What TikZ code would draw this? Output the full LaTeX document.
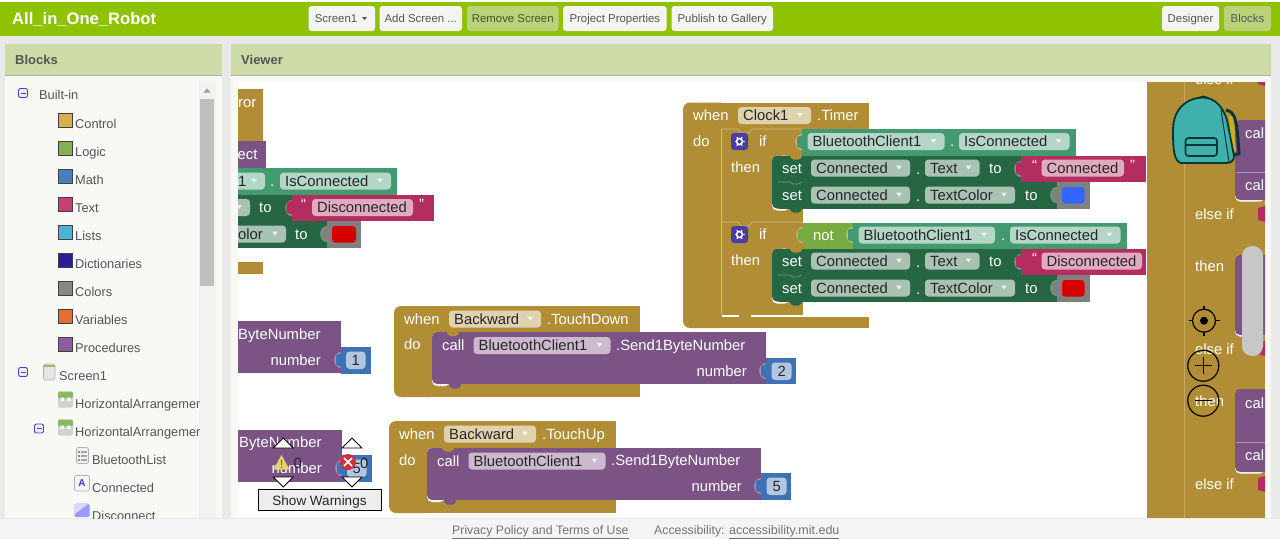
\documentclass[tikz,border=0pt]{standalone}
\usepackage{fontspec}
\setmainfont{Liberation Sans}
\definecolor{ctl}{HTML}{B18E35}\definecolor{ctlp}{HTML}{E0D2AE}
\definecolor{dgr}{HTML}{266643}\definecolor{dgrp}{HTML}{A8C2B3}
\definecolor{tea}{HTML}{439970}\definecolor{teap}{HTML}{B4D6C6}
\definecolor{pnk}{HTML}{B32D5E}\definecolor{pnkp}{HTML}{E0ABBF}
\definecolor{pur}{HTML}{7C5385}\definecolor{purp}{HTML}{CBBACE}
\definecolor{blu}{HTML}{3F71B5}\definecolor{blup}{HTML}{B2C6E1}
\definecolor{lgc}{HTML}{77AB41}\definecolor{gry}{HTML}{808080}
\definecolor{topg}{HTML}{8FC202}\definecolor{hdr}{HTML}{CDDBA8}
\definecolor{pan}{HTML}{F8F9F4}\definecolor{bgg}{HTML}{E9E9E9}
\definecolor{uit}{HTML}{555555}\definecolor{bag}{HTML}{3FB0AC}\definecolor{bagd}{HTML}{0A3532}
\definecolor{gearc}{HTML}{4A3DA8}\definecolor{btnw}{HTML}{F4F4F2}\definecolor{btng}{HTML}{BAD27A}
\definecolor{swc}{HTML}{D9AE4C}\definecolor{swl}{HTML}{84B04F}\definecolor{swm}{HTML}{4A7FBE}
\definecolor{swt}{HTML}{C93E74}\definecolor{swi}{HTML}{4AB3D8}\definecolor{swd}{HTML}{2A1E9C}
\definecolor{swg}{HTML}{888888}\definecolor{swv}{HTML}{E5702E}\definecolor{swp}{HTML}{8C5EA0}
\definecolor{cblue}{HTML}{3366FF}\definecolor{cred}{HTML}{D50000}
\definecolor{warn}{HTML}{E8D26A}\definecolor{errc}{HTML}{CF3040}
\newcounter{nn}
\tikzset{
 blkt/.style={font=\fontsize{14.8}{16}\selectfont,text=white,anchor=base west,inner sep=0pt},
 pilt/.style={blkt,text=black!85},
 sidet/.style={font=\fontsize{12.8}{15}\selectfont,text=uit,anchor=base west,inner sep=0pt},
 btnt/.style={font=\fontsize{11.4}{14}\selectfont,text=uit,anchor=base,inner sep=0pt},
 headt/.style={font=\bfseries\fontsize{13}{16}\selectfont,text=uit,anchor=base west,inner sep=0pt},
 iconline/.style={draw=black,line width=1.2pt}
}
% text on a centre line
\newcommand{\lbl}[4][blkt]{\stepcounter{nn}\node[#1] (t\thenn) at (#2,#3+5) {#4};}
\newcommand{\lblr}[3]{\stepcounter{nn}\node[blkt,anchor=base east] (t\thenn) at (#1,#2+5) {#3};}
% field pill with drop-down mark: x0 x1 yc fill text
\newcommand{\pil}[5]{\fill[#4,rounded corners=3.5pt] (#1,#3-8.5) rectangle (#2,#3+8.5);
 \lbl[pilt]{#1+5}{#3}{#5}
 \fill[white,opacity=.75] (#2-14,#3-2.5) -- (#2-8,#3-2.5) -- (#2-11,#3+1.5) -- cycle;}
% hat block: x0 y0 x1 headbottom innerx bartop y1
\newcommand{\hatb}[7]{\fill[ctl,rounded corners=7pt] (#1,#2) rectangle (#5+6,#7);
 \fill[ctl] (#1+8,#2) rectangle (#3,#4); \fill[ctl] (#1+8,#6) rectangle (#3,#7);}
% statement block with rounded left corners: x0 y0 x1 y1 colour
\newcommand{\stm}[5]{\fill[white,rounded corners=5pt] (#1,#2) rectangle (#1+18,#4+2);
 \fill[#5,rounded corners=5pt] (#1,#2) rectangle (#1+14,#4);
 \fill[#5] (#1+7,#2) rectangle (#3,#4);}
\newcommand{\bmp}[3]{\fill[#3,rounded corners=1.5pt] (#1,#2-.5) -- (#1+3,#2+4.5) -- (#1+11,#2+4.5) -- (#1+14,#2-.5) -- cycle;}
\newcommand{\tabv}[3]{\fill[white,opacity=.35] (#1,#2-8) .. controls (#1-9,#2-8) and (#1-9,#2+8) .. (#1,#2+8) -- cycle;
 \fill[#3] (#1+.5,#2-7) .. controls (#1-3,#2-6) and (#1-2,#2-6) .. (#1-5,#2-5) -- (#1-5,#2+5) .. controls (#1-2,#2+6) and (#1-3,#2+6) .. (#1+.5,#2+7) -- cycle;}
\newcommand{\seam}[2]{\draw[white,opacity=.35,line width=.6pt] (#1,#2) -- (#1+12,#2) -- (#1+15,#2+2) -- (#1+20,#2+2) -- (#1+24,#2);}
\newcommand{\gearic}[2]{\fill[gearc,rounded corners=3pt] (#1-8.5,#2-8.5) rectangle (#1+8.5,#2+8.5);
 \draw[white,line width=1.5pt] (#1,#2) circle (3);
 \foreach \a in {0,60,...,300}{\draw[white,line width=1.3pt] (#1,#2) ++(\a:3) -- ++(\a:2);}}
\newcommand{\swatch}[3]{\fill[#2,draw=black!75,line width=.9pt] (58.5,#1-10.5) rectangle (72.5,#1+3.5);
 \lbl[sidet]{75}{#1}{#3}}
\newcommand{\minusic}[2]{\fill[blue!8,draw=blue!45!gray,line width=.9pt,rounded corners=2pt] (#1-4.5,#2-4.5) rectangle (#1+4.5,#2+4.5);
 \draw[blue!45!gray,line width=1pt] (#1-2.5,#2) -- (#1+2.5,#2);}
\newcommand{\btn}[5]{\fill[#3,rounded corners=3pt] (#1,6) rectangle (#2,31);
 \stepcounter{nn}\node[btnt,text=#4] (t\thenn) at ({(#1+#2)/2},22.8) {#5};}
\begin{document}
\begin{tikzpicture}[x=1pt,y=-1pt]
\useasboundingbox (0,0) rectangle (1280,539);
\fill[bgg] (0,0) rectangle (1280,539);
\fill[white] (0,0) rectangle (1280,2);
\fill[topg] (0,2) rectangle (1280,35.5);
\stepcounter{nn}\node[anchor=base west,inner sep=0pt,text=white,font=\bfseries\fontsize{16.6}{20}\selectfont] (title) at (12,24.5) {All\_in\_One\_Robot};
\btn{308.5}{375}{btnw}{uit}{}
\node[btnt] (scr) at (336,22.8) {Screen1};
\fill[uit] (362,17) -- (367,17) -- (364.5,20) -- cycle;
\btn{379.5}{462}{btnw}{uit}{Add Screen ...}
\btn{467}{558.5}{btng}{uit!70!topg!70!black}{Remove Screen}
\btn{563}{666.7}{btnw}{uit}{Project Properties}
\btn{671.5}{773}{btnw}{uit}{Publish to Gallery}
\btn{1162}{1219}{btnw}{uit}{Designer}
\btn{1224}{1271}{btng}{uit}{Blocks}
% panels
\fill[pan] (5,44) rectangle (222,518);
\fill[hdr] (5,44) rectangle (222,75);
\fill[pan] (231,44) rectangle (1271,518);
\fill[hdr] (231,44) rectangle (1271,75);
\draw[black!30,line width=.6pt] (5,75) -- (222,75) (231,75) -- (1271,75);
\lbl[headt]{15}{59.5}{Blocks}
\lbl[headt]{241}{59.5}{Viewer}
% sidebar
\fill[black!5] (199,82) rectangle (216,518);
\fill[black!25] (200,99) rectangle (214,286);
\fill[black!40] (203.5,92.5) -- (210.5,92.5) -- (207,88.5) -- cycle;
\begin{scope}
\clip (5,75) rectangle (199,518);
\minusic{23}{93}
\lbl[sidet]{39}{94}{Built-in}
\swatch{123.5}{swc}{Control}
\swatch{151.5}{swl}{Logic}
\swatch{179.5}{swm}{Math}
\swatch{207.5}{swt}{Text}
\swatch{235.5}{swi}{Lists}
\swatch{263.5}{swd}{Dictionaries}
\swatch{291.5}{swg}{Colors}
\swatch{319.5}{swv}{Variables}
\swatch{347.5}{swp}{Procedures}
\minusic{23}{372}
\fill[black!10,draw=black!30,line width=.6pt,rounded corners=1.5pt] (43.5,364) rectangle (55,380);
\fill[lgc!80!white] (44,364.5) rectangle (54.5,367);
\lbl[sidet]{59}{375.5}{Screen1}
\foreach \yy in {391.5,419.5}{
 \fill[black!18,rounded corners=2pt] (58,\yy) rectangle (73,\yy+16);
 \fill[lgc!85!white,rounded corners=2pt] (58,\yy) rectangle (73,\yy+7);
 \fill[white] (60.5,\yy+6) rectangle (64,\yy+9.5) (67,\yy+6) rectangle (70.5,\yy+9.5);}
\lbl[sidet]{75}{403}{HorizontalArrangement}
\minusic{39}{428.5}
\lbl[sidet]{75}{431}{HorizontalArrangement}
\fill[black!6,draw=black!30,line width=.6pt,rounded corners=1.5pt] (76.5,447.5) rectangle (88.5,463.5);
\foreach \yy in {451,455,459}{\fill[lgc] (78,\yy) rectangle (80,\yy+1.5); \fill[black!35] (81,\yy) rectangle (87,\yy+1.5);}
\lbl[sidet]{92}{459}{BluetoothList}
\fill[blue!4,draw=black!30,line width=.6pt,rounded corners=1.5pt] (74.5,475.5) rectangle (89.5,491);
\stepcounter{nn}\node[inner sep=0pt,font=\bfseries\fontsize{10}{10}\selectfont,text=blue!50!gray] (t\thenn) at (82,483) {A};
\lbl[sidet]{92}{487}{Connected}
\fill[blue!40!white,rounded corners=1.5pt] (74.5,503.5) rectangle (89.5,517);
\fill[blue!15!white] (75,504) -- (88,504) -- (75,514) -- cycle;
\lbl[sidet]{92}{515}{Disconnect}
\end{scope}
% workspace
\fill[white] (238,82) rectangle (1265,518);
\begin{scope}
\clip (238,82) rectangle (1265,518);
% left fragments
\fill[ctl] (230,89) rectangle (263,142);
\lbl{238}{102}{ror}
\fill[ctl] (230,262) rectangle (263,274);
\fill[pur] (230,141) rectangle (265.5,168);
\lbl{237.5}{154}{ect}
\fill[tea] (230,168) rectangle (397,194.5);
\pil{200}{265}{181}{teap}{}
\lbl[pilt]{238}{181}{1}
\lbl{270}{181}{.}
\pil{280}{391}{181}{teap}{IsConnected}
\fill[dgr] (230,194.5) rectangle (291.5,221);
\pil{200}{250}{207.5}{dgrp}{}
\lbl{259}{207.5}{to}
\fill[pnk] (291.5,194.5) rectangle (434,221);
\tabv{291.5}{207.5}{pnk}
\lbl{301}{204}{“}
\pil{312}{413}{207.5}{pnkp}{}
\fill[pnkp] (395,200) rectangle (412,215);
\lbl[pilt]{317}{207.5}{Disconnected}
\lbl{419}{204}{”}
\fill[dgr] (230,221) rectangle (327,247.5);
\pil{200}{286}{234}{dgrp}{}
\lbl[pilt]{238}{234}{olor}
\lbl{295}{234}{to}
\fill[gry] (327,221) rectangle (361,247.5);
\tabv{327}{234}{gry}
\fill[cred,rounded corners=3pt] (332,226) rectangle (356,242.5);
% clock block
\hatb{683}{102.5}{869}{129}{721}{317}{328}
\lbl{693}{115}{when}
\pil{738}{811}{115.5}{ctlp}{Clock1}
\lbl{817}{115}{.Timer}
\lbl{693}{141}{do}
% if blocks
\foreach \oy in {0,93}{
 \fill[ctl] (721.5,129+\oy) rectangle (772,222+\oy);
 \fill[ctl] (772,129+\oy) rectangle (802.5,222+\oy);
 \draw[white,opacity=.4,line width=.6pt] (721.5,222+\oy) -- (721.5,129+\oy) -- (738,129+\oy) -- (741,133+\oy) -- (749,133+\oy) -- (752,129+\oy) -- (802.5,129+\oy);
}
\fill[white] (721.5,315) rectangle (869,317);
\fill[white] (802.5,129) rectangle (869,130);
\bmp{738}{315}{ctl}
\foreach \oy in {0,93}{
 \gearic{739.5}{141.5+\oy}
 \lbl{759}{141.5+\oy}{if}
 \lbl{731}{167+\oy}{then}
}
% first getter
\fill[tea] (802,129) rectangle (1076,155.5);
\tabv{802}{142}{tea}
\pil{807.5}{944.5}{141.5}{teap}{BluetoothClient1}
\lbl{950}{141.5}{.}
\pil{959}{1069.5}{141.5}{teap}{IsConnected}
% set blocks, two groups
\stm{772}{155.5}{1057}{208.5}{dgr}
\fill[white] (1021,155.5) rectangle (1145,182);
\fill[dgr] (800,155.5) rectangle (1021,182);
\stm{772}{248.5}{1057}{301.5}{dgr}
\fill[white] (1021,248.5) rectangle (1146,275);
\fill[dgr] (800,248.5) rectangle (1021,275);
\bmp{789}{208}{dgr}
\bmp{789}{301}{dgr}
\fill[ctl,rounded corners=1.5pt] (789,155) -- (792,159.5) -- (800,159.5) -- (803,155) -- cycle;
\fill[ctl,rounded corners=1.5pt] (789,248) -- (792,252.5) -- (800,252.5) -- (803,248) -- cycle;
\seam{778}{182}
\seam{778}{275}
\foreach \oy/\sw in {0/cblue,93/cred}{
 \lbl{782}{168+\oy}{set}
 \pil{811}{910}{168+\oy}{dgrp}{Connected}
 \lbl{916}{169+\oy}{.}
 \pil{925}{979.5}{168+\oy}{dgrp}{Text}
 \lbl{989}{168+\oy}{to}
 \lbl{782}{195+\oy}{set}
 \pil{811}{910}{195+\oy}{dgrp}{Connected}
 \lbl{916}{196+\oy}{.}
 \pil{925}{1015}{195+\oy}{dgrp}{TextColor}
 \lbl{1025}{195+\oy}{to}
 \fill[pnk] (1021,155.5+\oy) rectangle (1146,182+\oy);
 \tabv{1021}{168.5+\oy}{pnk}
 \lbl{1032}{165+\oy}{“}
 \fill[gry] (1057,182+\oy) rectangle (1090,208.5+\oy);
 \tabv{1057}{195+\oy}{gry}
 \fill[\sw,rounded corners=3pt] (1062,187+\oy) rectangle (1084.5,203.5+\oy);
}
\fill[pnkp,rounded corners=3.5pt] (1041.5,159.5) rectangle (1124,176.5);
\lbl[pilt]{1046.5}{168}{Connected}
\lbl{1130}{165}{”}
\fill[pnkp,rounded corners=3.5pt] (1041.5,252.5) rectangle (1142,269.5);
\lbl[pilt]{1046.5}{261}{Disconnected}
% not + getter
\fill[lgc] (802.5,222.5) rectangle (853,248.5);
\tabv{802.5}{235}{lgc}
\lbl{813}{235}{not}
\fill[tea] (853,222.5) rectangle (1127,248.5);
\tabv{853}{235}{tea}
\pil{858.5}{995}{235}{teap}{BluetoothClient1}
\lbl{1001}{235}{.}
\pil{1010}{1120.5}{235}{teap}{IsConnected}
% ByteNumber fragments
\fill[pur] (230,321) rectangle (341,373);
\lbl{238}{334}{ByteNumber}
\lblr{321}{360}{number}
\fill[blu] (341,347) rectangle (370.5,373.5);
\tabv{341}{360}{blu}
\fill[blup,rounded corners=3.5pt] (346,351.5) rectangle (365.5,369);
\lbl[pilt]{351.5}{360.5}{1}
\fill[pur] (230,430) rectangle (342,481.5);
\lbl{239}{442}{ByteNumber}
\lblr{322}{468}{number}
\fill[blu] (342,455) rectangle (371.5,481.5);
\tabv{342}{468}{blu}
\fill[blup,rounded corners=3.5pt] (347,459.5) rectangle (366.5,477);
\lbl[pilt]{352.5}{468.5}{5}
% TouchDown / TouchUp
\hatb{394}{306}{640}{332}{432}{384}{397}
\stm{432}{332}{766}{384}{pur}
\bmp{448}{384}{pur}
\fill[ctl,rounded corners=1.5pt] (446,331.5) -- (449,336) -- (457,336) -- (460,331.5) -- cycle;
\lbl{404}{319}{when}
\pil{449}{541}{319}{ctlp}{Backward}
\lbl{547}{319}{.TouchDown}
\lbl{404}{344}{do}
\lbl{442}{345}{call}
\pil{473.5}{610.5}{345.5}{purp}{BluetoothClient1}
\lbl{616}{345}{.Send1ByteNumber}
\lblr{747}{371}{number}
\fill[blu] (766,358) rectangle (796,384);
\tabv{766}{371}{blu}
\fill[blup,rounded corners=3.5pt] (771.5,362.5) rectangle (791.5,380);
\lbl[pilt]{777.5}{371.5}{2}
\hatb{389}{421}{616}{447.5}{427}{500}{513}
\stm{427}{448}{761}{500}{pur}
\bmp{443}{500}{pur}
\fill[ctl,rounded corners=1.5pt] (441,447) -- (444,451.5) -- (452,451.5) -- (455,447) -- cycle;
\lbl{399}{434}{when}
\pil{444}{536}{434}{ctlp}{Backward}
\lbl{542}{434}{.TouchUp}
\lbl{399}{460}{do}
\lbl{437}{461}{call}
\pil{468.5}{605.5}{461}{purp}{BluetoothClient1}
\lbl{611}{460}{.Send1ByteNumber}
\lblr{742}{486}{number}
\fill[blu] (761,473) rectangle (791,500);
\tabv{761}{486}{blu}
\fill[blup,rounded corners=3.5pt] (766.5,477.5) rectangle (786.5,495);
\lbl[pilt]{772.5}{486.5}{5}
% right brown block
\fill[ctl] (1147,82) rectangle (1265,518);
\draw[white,opacity=.25,line width=.7pt] (1184,82) -- (1184,518);
\lbl{1195}{79}{else if}
\lbl{1195}{214}{else if}
\lbl{1195}{266}{then}
\lbl{1195}{349}{else if}
\lbl{1195}{401}{then}
\lbl{1195}{484}{else if}
\foreach \ya/\yb in {80/86,206/222,341/356,476/492}{
 \fill[pnk] (1258,\ya+2) -- (1265,\ya) -- (1265,\yb) -- (1258,\yb-2) -- cycle;}
\foreach \ya/\yb in {120/200,389/472}{
 \fill[white,rounded corners=5pt] (1235,\yb-14) rectangle (1265,\yb+1.5);
 \fill[pur,rounded corners=5pt] (1235,\ya) rectangle (1275,\yb);
}
\fill[white,rounded corners=5pt] (1235,320) rectangle (1265,336.5);
\fill[pur,rounded corners=5pt] (1235,255) rectangle (1275,335);
\lbl{1245}{133}{cal}\lbl{1245}{185}{cal}
\lbl{1245}{403}{cal}\lbl{1245}{455}{cal}
\draw[white,opacity=.4,line width=.5pt] (1236,172) -- (1265,172) (1236,442) -- (1265,442);
% scroll thumb
\fill[black!22,rounded corners=10pt] (1242,246) rectangle (1263,356);
% backpack
\draw[bagd,line width=3pt,line join=round] (1226,110) .. controls (1236,112) and (1237,122) .. (1239,154) -- (1232,155);
\fill[ctl!70!yellow] (1229,116) -- (1233,117) -- (1236,151) -- (1232,152) -- cycle;
\draw[bagd,line width=1.6pt] (1197,101) .. controls (1198,95) and (1208,95) .. (1210,101);
\filldraw[fill=bag,draw=bagd,line width=1.8pt,line join=round] (1181,163) .. controls (1174,161) and (1173,150) .. (1173,130) .. controls (1173,108) and (1188,97.5) .. (1203,97.5) .. controls (1215,97.5) and (1225,108) .. (1228,125) -- (1234,156) .. controls (1234,160) and (1232,163) .. (1226,163) -- cycle;
\draw[bagd,line width=1pt] (1221,110) -- (1229,162);
\filldraw[fill=bag,draw=bagd,line width=1.6pt,rounded corners=3pt] (1185.5,138) rectangle (1217,156);
\draw[bagd,line width=1.2pt] (1185.5,145) -- (1217,145);
% zoom controls
\draw[iconline] (1204,320.7) circle (11.5);
\fill[black] (1204,320.7) circle (4);
\draw[iconline] (1204,305.5) -- (1204,309) (1204,332) -- (1204,336) (1188.5,320.7) -- (1192.5,320.7) (1215.5,320.7) -- (1219.5,320.7);
\draw[iconline] (1203.3,365.7) circle (15.5);
\draw[iconline] (1195,365.7) -- (1211.6,365.7) (1203.3,357.4) -- (1203.3,374);
\draw[iconline] (1203.3,400.7) circle (15.5);
\draw[iconline] (1195,400.7) -- (1211.6,400.7);
% warning indicator
\foreach \xx in {283.3,352}{
 \filldraw[fill=white,draw=black,line width=.9pt] (\xx,438) -- (\xx+10,448) -- (\xx-10,448) -- cycle;
 \filldraw[fill=white,draw=black,line width=.9pt] (\xx,487) -- (\xx+10,477) -- (\xx-10,477) -- cycle;}
\fill[warn] (281.5,455) -- (289.5,469.5) -- (273.5,469.5) -- cycle;
\fill[black!60] (281,459.5) rectangle (282,465) (281,466.5) rectangle (282,468);
\lbl[pilt]{293.5}{463}{0}
\fill[errc] (348,462) circle (8);
\draw[white,line width=1.6pt] (344,458) -- (352,466) (352,458) -- (344,466);
\lbl[pilt]{360}{463}{0}
\filldraw[fill=black!7,draw=black,line width=.9pt] (258,489.5) rectangle (381,510);
\stepcounter{nn}\node[pilt,anchor=base,font=\fontsize{13.5}{15}\selectfont] (show) at (319.5,505) {Show Warnings};
\end{scope}
% footer
\fill[black!4.5] (0,518.5) rectangle (1280,539);
\node[font=\fontsize{12.3}{14}\selectfont,text=black!55,anchor=base west,inner sep=0pt] (priv) at (452,534.5) {\underline{Privacy Policy and Terms of Use}};
\node[font=\fontsize{12.3}{14}\selectfont,text=black!55,anchor=base west,inner sep=0pt] (acc) at (654,534.5) {Accessibility:};
\node[font=\fontsize{12.5}{14}\selectfont,text=black!55,anchor=base west,inner sep=0pt] (mit) at (729,534.5) {\underline{accessibility.mit.edu}};
\end{tikzpicture}
\end{document}
